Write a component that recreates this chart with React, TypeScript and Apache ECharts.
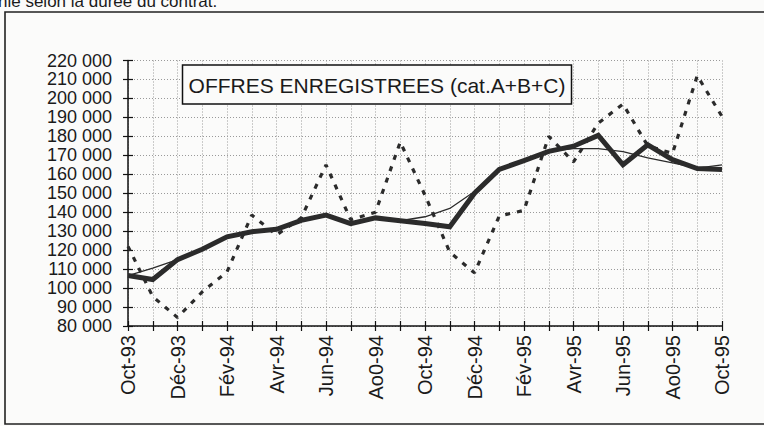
import React, { useEffect, useRef } from "react";
import * as echarts from "echarts";

const months = [
  "Oct-93", "Nov-93", "Déc-93", "Jan-94", "Fév-94", "Mar-94", "Avr-94", "Mai-94", "Jun-94",
  "Jul-94", "Ao0-94", "Sep-94", "Oct-94", "Nov-94", "Déc-94", "Jan-95", "Fév-95", "Mar-95",
  "Avr-95", "Mai-95", "Jun-95", "Jul-95", "Ao0-95", "Sep-95", "Oct-95",
];

// Données brutes (pointillés)
const brutes = [
  122000, 95500, 84500, 98000, 108500, 138500, 128000, 137000, 165000, 136000, 140000, 177000,
  149000, 119000, 108000, 138000, 141000, 180000, 166500, 187000, 197000, 175000, 171000, 212000, 190500,
];

// Données CVS (trait épais)
const cvs = [
  106600, 104500, 115000, 120500, 127000, 129700, 131000, 135700, 138500, 134000, 137000, 135500,
  134000, 132300, 150000, 162600, 167200, 172100, 174800, 180500, 165000, 175500, 167700, 163000, 162500,
];

// Tendance (trait fin)
const tendance = [
  106600, 110500, 115000, 120500, 127000, 129700, 131000, 135700, 138300, 134500, 137000, 135500,
  137600, 142000, 150900, 162600, 167200, 172100, 173500, 173500, 172000, 168600, 166000, 163300, 165000,
];

const topText = "nie selon la durée du contrat.";
const boxTitle = "OFFRES ENREGISTREES (cat.A+B+C)";

const FONT = "Liberation Sans, Arial, Helvetica, sans-serif";
const INK = "#2b2b2b";

export default function App() {
  const ref = useRef<HTMLDivElement>(null);

  useEffect(() => {
    if (!ref.current) return;
    const chart = echarts.init(ref.current, null, { renderer: "svg" });
    const fmt = (v: number) => `${Math.round(v / 1000)} 000`;
    chart.setOption({
      animation: false,
      backgroundColor: "#fbfbfa",
      grid: { left: 128, right: 42, top: 60.5, bottom: 100, containLabel: false },
      xAxis: [
        {
          type: "category",
          data: months,
          boundaryGap: false,
          axisLine: { show: true, lineStyle: { color: "#111", width: 1.5 } },
          axisTick: { show: true, interval: 0, length: 5, lineStyle: { color: "#111", width: 1.2 } },
          axisLabel: {
            interval: 1,
            rotate: 90,
            margin: 9,
            fontFamily: FONT,
            fontSize: 20,
            color: "#1a1a1a",
          },
          splitLine: {
            show: true,
            interval: 0,
            lineStyle: { color: "#9a9a9a", width: 1, type: [1, 2] },
          },
        },
        {
          type: "category",
          data: months,
          boundaryGap: false,
          position: "bottom",
          axisLine: { show: false },
          axisTick: { show: true, inside: true, interval: 0, length: 5, lineStyle: { color: "#111", width: 1.2 } },
          axisLabel: { show: false },
          splitLine: { show: false },
        },
      ],
      yAxis: [
        {
          type: "value",
          min: 80000,
          max: 220000,
          interval: 10000,
          axisLine: { show: true, lineStyle: { color: "#111", width: 1.5 } },
          axisTick: { show: true, length: 5, lineStyle: { color: "#111", width: 1.2 } },
          axisLabel: {
            formatter: fmt,
            margin: 16,
            fontFamily: FONT,
            fontSize: 18,
            lineHeight: 18,
            color: "#1a1a1a",
          },
          splitLine: { show: true, lineStyle: { color: "#9a9a9a", width: 1, type: [1, 2] } },
        },
        {
          type: "value",
          min: 80000,
          max: 220000,
          interval: 10000,
          position: "left",
          axisLine: { show: false },
          axisTick: { show: true, inside: true, length: 5, lineStyle: { color: "#111", width: 1.2 } },
          axisLabel: { show: false },
          splitLine: { show: false },
        },
      ],
      series: [
        {
          name: "brutes",
          type: "line",
          data: brutes,
          symbol: "none",
          lineStyle: { color: INK, width: 3.2, type: [5, 7] },
          z: 3,
        },
        {
          name: "tendance",
          type: "line",
          data: tendance,
          symbol: "none",
          lineStyle: { color: INK, width: 1.3 },
          z: 4,
        },
        {
          name: "cvs",
          type: "line",
          data: cvs,
          symbol: "none",
          lineStyle: { color: INK, width: 5, join: "miter" },
          z: 5,
        },
      ],
      graphic: [
        {
          type: "rect",
          shape: { x: 5, y: 12, width: 800, height: 412 },
          style: { fill: "none", stroke: "#222", lineWidth: 1.6 },
          silent: true,
          z: 1,
        },
        {
          type: "text",
          x: -2,
          y: 1,
          style: {
            text: topText,
            fontFamily: FONT,
            fontSize: 17,
            fill: "#1a1a1a",
            verticalAlign: "middle",
            align: "left",
          },
          silent: true,
        },
        {
          type: "rect",
          shape: { x: 182.5, y: 65, width: 389, height: 39 },
          style: { fill: "#fbfbfa", stroke: "#111", lineWidth: 1.5 },
          silent: true,
          z: 20,
        },
        {
          type: "text",
          x: 377,
          y: 85,
          style: {
            text: boxTitle,
            fontFamily: FONT,
            fontSize: 21,
            fill: "#1a1a1a",
            align: "center",
            verticalAlign: "middle",
          },
          silent: true,
          z: 21,
        },
      ],
    });
    return () => chart.dispose();
  }, []);

  return (
    <div
      ref={ref}
      style={{ position: "fixed", left: 0, top: 0, width: 764, height: 426 }}
    />
  );
}
